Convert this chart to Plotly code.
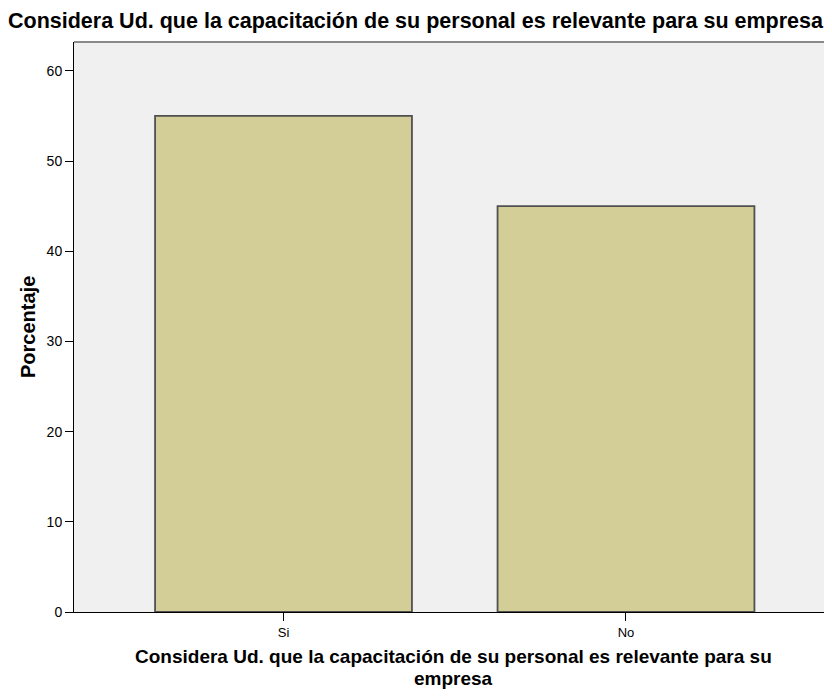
import plotly.graph_objects as go

categories = ["Si", "No"]
values = [55, 45]
y_ticks = [0, 10, 20, 30, 40, 50, 60]

title_text = "Considera Ud. que la capacitación de su personal es relevante para su empresa"
x_title_lines = ["Considera Ud. que la capacitación de su personal es relevante para su", "empresa"]
y_title = "Porcentaje"

FONT = "Liberation Sans, Arial, sans-serif"

fig = go.Figure()
fig.add_trace(go.Bar(
    x=[0, 1], y=values, width=0.75,
    marker=dict(color="#D3CE98", line=dict(color="#505050", width=1.8)),
    hoverinfo="skip",
))

# page body has an 8px default margin, so the figure is offset by 8px
fig.update_layout(
    width=824, height=682,
    margin=dict(l=66, r=0, t=34, b=78, pad=0),
    paper_bgcolor="white", plot_bgcolor="#F0F0F0",
    showlegend=False,
    xaxis=dict(
        range=[-0.6117, 1.6015], tickvals=[0, 1], ticktext=categories,
        showgrid=False, zeroline=False, showline=True, linecolor="black", linewidth=1,
        ticks="outside", ticklen=8, tickcolor="black",
        tickfont=dict(family=FONT, size=13, color="black"),
    ),
    yaxis=dict(
        range=[0, 63.2], tickvals=y_ticks,
        showgrid=False, zeroline=False, showline=True, linecolor="black", linewidth=1,
        ticks="outside", ticklen=8, tickcolor="black",
        tickfont=dict(family=FONT, size=14, color="black"),
    ),
)

# plot area is 758 x 570 px; positions below are in paper units of it
annotations = [
    dict(text=title_text, xref="paper", yref="paper", x=0.4512, y=1.0368,
         xanchor="center", yanchor="middle", showarrow=False,
         font=dict(family=FONT, size=21.5, color="black", weight="bold")),
    dict(text=x_title_lines[0], xref="paper", yref="paper", x=0.5, y=-0.0789,
         xanchor="center", yanchor="middle", showarrow=False,
         font=dict(family=FONT, size=19, color="black", weight="bold")),
    dict(text=x_title_lines[1], xref="paper", yref="paper", x=0.5, y=-0.1175,
         xanchor="center", yanchor="middle", showarrow=False,
         font=dict(family=FONT, size=19, color="black", weight="bold")),
    dict(text=y_title, xref="paper", yref="paper", x=-0.0607, y=0.5, textangle=-90,
         xanchor="center", yanchor="middle", showarrow=False,
         font=dict(family=FONT, size=20, color="black", weight="bold")),
]
fig.update_layout(annotations=annotations)

# top border line of the plot area
fig.add_shape(type="line", xref="paper", yref="paper", x0=0, x1=1, y0=1, y1=1,
              line=dict(color="#8A8A8A", width=2))

fig.write_html("out.html")
